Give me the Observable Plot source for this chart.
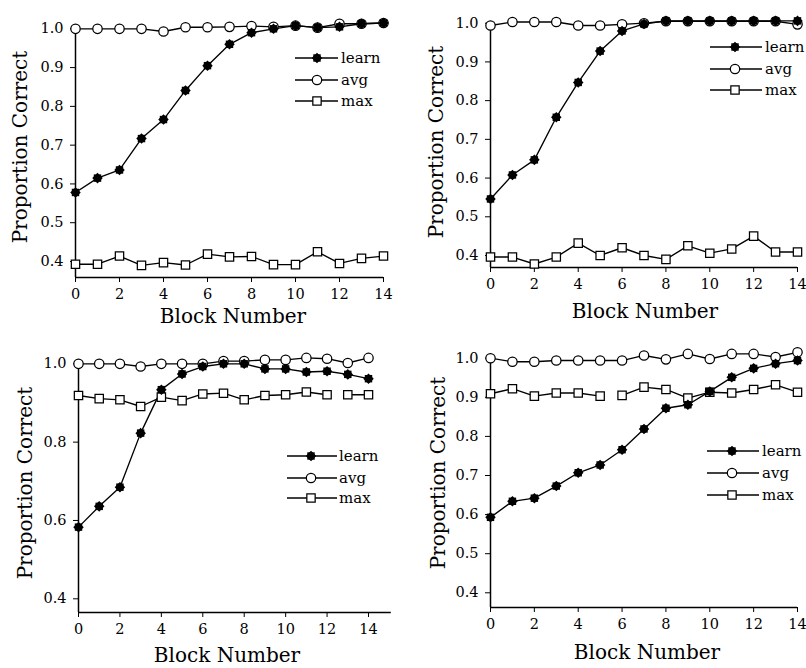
<!DOCTYPE html>
<html><head><meta charset="utf-8">
<script src="https://cdn.jsdelivr.net/npm/d3@7"></script>
<script src="https://cdn.jsdelivr.net/npm/@observablehq/plot@0.6"></script>
<style>
body{margin:0;background:#fff;}
#wrap{position:relative;width:806px;height:668px;overflow:hidden;background:#fff;}
.panel{position:absolute;}
#overlay{position:absolute;left:0;top:0;}
</style></head><body><div id="wrap"></div>
<script>
// ---------- data ----------
const blocks = [0,1,2,3,4,5,6,7,8,9,10,11,12,13,14];
const xTicks = [0,2,4,6,8,10,12,14];
const yTicksFine = [0.4,0.5,0.6,0.7,0.8,0.9,1.0];
const yTicksCoarse = [0.4,0.6,0.8,1.0];
const seriesNames = ["learn","avg","max"];
const xTitle = "Block Number";
const yTitle = "Proportion Correct";

// top-left panel
const learnA = [0.578,0.615,0.636,0.717,0.766,0.841,0.905,0.960,0.990,1.000,1.008,1.003,1.005,1.013,1.015];
const avgA   = [1.000,1.000,1.000,1.000,0.993,1.004,1.004,1.005,1.007,1.005,1.008,1.003,1.013,1.013,1.015];
const maxA   = [0.393,0.393,0.414,0.390,0.397,0.391,0.419,0.412,0.413,0.392,0.392,0.425,0.395,0.408,0.414];
// top-right panel
const learnB = [0.546,0.608,0.647,0.757,0.847,0.928,0.980,0.998,1.006,1.006,1.006,1.006,1.006,1.006,1.006];
const avgB   = [0.994,1.003,1.003,1.003,0.994,0.994,0.997,1.000,1.005,1.005,1.005,1.005,1.005,1.005,0.997];
const maxB   = [0.396,0.396,0.378,0.396,0.432,0.400,0.420,0.400,0.390,0.425,0.406,0.417,0.450,0.409,0.409];
// bottom-left panel
const learnC = [0.583,0.636,0.685,0.823,0.934,0.974,0.993,1.000,1.000,0.987,0.987,0.979,0.981,0.973,0.962];
const avgC   = [1.000,1.000,1.000,0.993,1.000,1.000,1.000,1.007,1.007,1.010,1.010,1.015,1.013,1.002,1.015];
const maxC   = [0.919,0.911,0.908,0.891,0.915,0.906,0.923,0.925,0.908,0.919,0.921,0.928,0.921,0.921,0.921];
// bottom-right panel
const learnD = [0.593,0.634,0.642,0.673,0.707,0.727,0.766,0.819,0.872,0.881,0.915,0.951,0.974,0.986,0.994];
const avgD   = [1.000,0.991,0.991,0.994,0.994,0.994,0.994,1.007,0.997,1.011,0.998,1.011,1.011,1.003,1.015];
const maxD   = [0.909,0.922,0.903,0.911,0.911,0.903,0.905,0.926,0.920,0.898,0.913,0.911,0.920,0.932,0.913];
// blocks where the "max" line is interrupted (new segment starts)
const maxBreaksA = [];
const maxBreaksB = [];
const maxBreaksC = [13];
const maxBreaksD = [6];

// ---------- layout ----------
const W = 403, H = 334;
const FONT = "'DejaVu Serif', serif";
const panels = [
  {left:0,   top:0,   px0:75, px14:383, py10:28.3, py04:261,   axisPy:277, xEnd:14,   yTicks:yTicksFine,
   learn:learnA, avg:avgA, max:maxA, breaks:maxBreaksA,
   legend:{x1:295,x2:338,mx:317,tx:341,ys:[58,80,101]},
   xt:{x:233,y:316}, yt:{x:20,y:147}},
  {left:403, top:0,   px0:87, px14:394, py10:22.7, py04:255,   axisPy:267, xEnd:14,   yTicks:yTicksFine,
   learn:learnB, avg:avgB, max:maxB, breaks:maxBreaksB,
   legend:{x1:710,x2:762,mx:735,tx:765,ys:[47,69,90]},
   xt:{x:645,y:311}, yt:{x:436,y:142}},
  {left:0,   top:334, px0:78, px14:368, py10:29.3, py04:264.3, axisPy:278, xEnd:15.1, yTicks:yTicksCoarse,
   learn:learnC, avg:avgC, max:maxC, breaks:maxBreaksC,
   legend:{x1:287,x2:337,mx:311,tx:339,ys:[456,478,498]},
   xt:{x:227,y:655}, yt:{x:25,y:483}},
  {left:403, top:334, px0:87, px14:394, py10:23.7, py04:258.3, axisPy:273, xEnd:14,   yTicks:yTicksFine,
   learn:learnD, avg:avgD, max:maxD, breaks:maxBreaksD,
   legend:{x1:707,x2:759,mx:732,tx:762,ys:[451,473,495]},
   xt:{x:647,y:652}, yt:{x:438,y:473}}
];

const wrap = document.getElementById("wrap");

function rowsOf(values, name, breaks) {
  let seg = 0;
  return blocks.map((b, i) => {
    if (breaks && breaks.includes(b)) seg++;
    return {block: b, value: values[i], series: name, seg: name + "-" + seg};
  });
}

const R_OPEN = 4.7, R_LEARN = 4.2;

for (const p of panels) {
  const k = (p.py04 - p.py10) / 0.6;
  const yMin = 0.4 - (p.axisPy - p.py04) / k;
  const topPx = 8;
  const yMax = 1.0 + (p.py10 - topPx) / k;
  const learnRows = rowsOf(p.learn, "learn", []);
  const avgRows = rowsOf(p.avg, "avg", []);
  const maxRows = rowsOf(p.max, "max", p.breaks);
  const lineOpts = {x:"block", y:"value", z:"seg", stroke:"black", strokeWidth:1.35};
  const chart = Plot.plot({
    width: W, height: H,
    marginLeft: p.px0, marginRight: W - p.px14, marginTop: topPx, marginBottom: H - p.axisPy,
    x: {domain:[0,14]},
    y: {domain:[yMin, yMax]},
    style: {fontFamily: FONT, fontSize: "14.5px", color: "black", background: "transparent", overflow: "visible"},
    marks: [
      Plot.ruleX([0], {y1: yMin, y2: 1.0, stroke: "black", strokeWidth: 1.5}),
      Plot.ruleY([yMin], {x1: 0, x2: p.xEnd, stroke: "black", strokeWidth: 1.5}),
      Plot.axisY({ticks: p.yTicks, tickFormat: d3.format(".1f"), tickSize: 5, tickPadding: 7, label: null}),
      Plot.axisX({ticks: xTicks, tickFormat: d3.format("d"), tickSize: 5, tickPadding: 6, label: null}),
      Plot.line(avgRows, lineOpts),
      Plot.line(maxRows, lineOpts),
      Plot.line(learnRows, lineOpts),
      Plot.dot(avgRows, {x:"block", y:"value", symbol:"circle", r:R_OPEN, fill:"white", stroke:"black", strokeWidth:1.25}),
      Plot.dot(maxRows, {x:"block", y:"value", symbol:"square", r:R_OPEN, fill:"white", stroke:"black", strokeWidth:1.25}),
      Plot.dot(learnRows, {x:"block", y:"value", symbol:"square", r:R_LEARN, fill:"black", stroke:"none"}),
      Plot.dot(learnRows, {x:"block", y:"value", symbol:"square", r:R_LEARN, rotate:45, fill:"black", stroke:"none"})
    ]
  });
  const div = document.createElement("div");
  div.className = "panel";
  div.style.left = p.left + "px";
  div.style.top = p.top + "px";
  div.appendChild(chart);
  wrap.appendChild(div);
}

// ---------- overlay: titles and legends ----------
const svg = d3.select(wrap).append("svg").attr("id","overlay")
  .attr("width", 806).attr("height", 668)
  .style("font-family", FONT);

const symCircle = d3.symbol(d3.symbolCircle, Math.PI * R_OPEN * R_OPEN)();
const symSquare = d3.symbol(d3.symbolSquare, Math.PI * R_OPEN * R_OPEN)();
const symLearn = d3.symbol(d3.symbolSquare, Math.PI * R_LEARN * R_LEARN)();

for (const p of panels) {
  svg.append("text").attr("x", p.xt.x).attr("y", p.xt.y)
    .attr("text-anchor","middle").attr("dominant-baseline","central")
    .attr("font-size", 20).text(xTitle);
  svg.append("text").attr("transform", `translate(${p.yt.x},${p.yt.y}) rotate(-90)`)
    .attr("text-anchor","middle").attr("dominant-baseline","central")
    .attr("font-size", 20).text(yTitle);
  const L = p.legend;
  seriesNames.forEach((name, i) => {
    const y = L.ys[i];
    svg.append("line").attr("x1", L.x1).attr("x2", L.x2).attr("y1", y).attr("y2", y)
      .attr("stroke","black").attr("stroke-width",1.35);
    if (name === "learn") {
      svg.append("path").attr("d", symLearn).attr("transform", `translate(${L.mx},${y})`).attr("fill","black");
      svg.append("path").attr("d", symLearn).attr("transform", `translate(${L.mx},${y}) rotate(45)`).attr("fill","black");
    } else {
      svg.append("path").attr("d", name === "avg" ? symCircle : symSquare)
        .attr("transform", `translate(${L.mx},${y})`)
        .attr("fill","white").attr("stroke","black").attr("stroke-width",1.25);
    }
    svg.append("text").attr("x", L.tx).attr("y", y).attr("dominant-baseline","central")
      .attr("font-size", 15).text(name);
  });
}
</script></body></html>
